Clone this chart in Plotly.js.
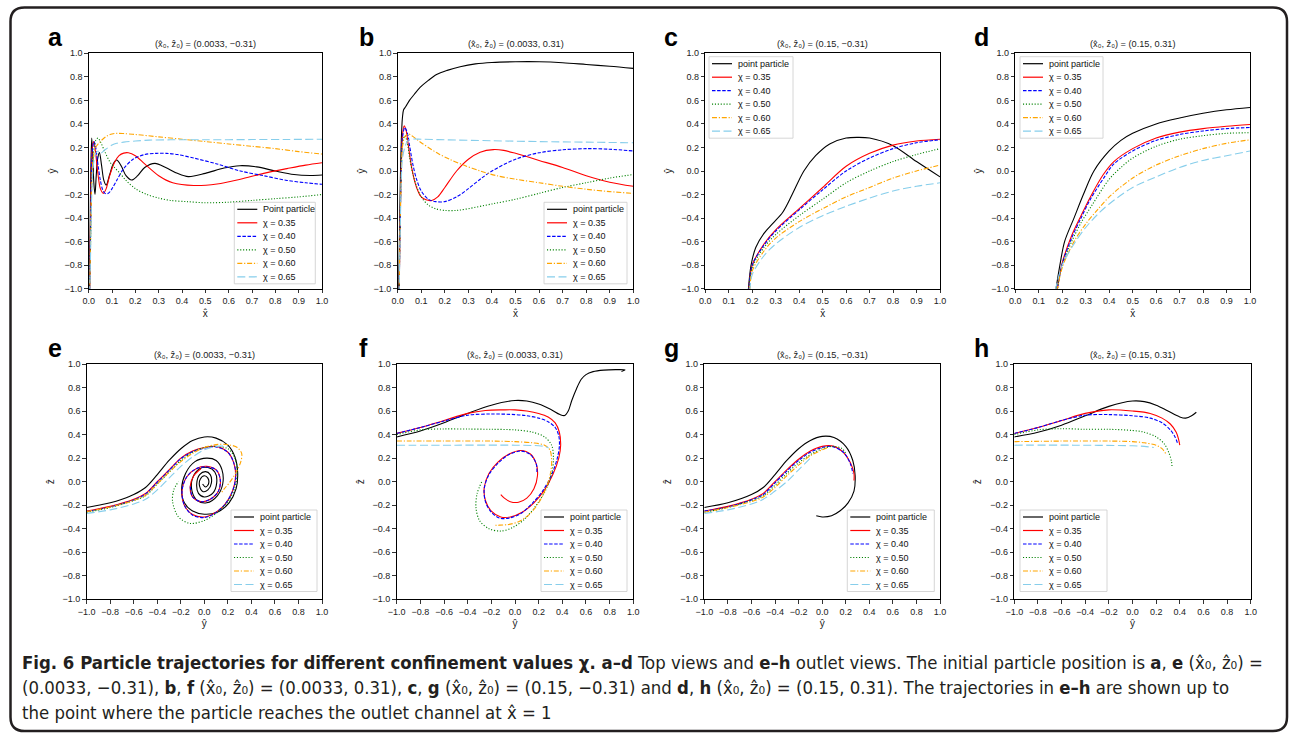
<!DOCTYPE html>
<html><head><meta charset="utf-8">
<script src="https://cdn.plot.ly/plotly-3.0.1.min.js"></script>
<style>html,body{margin:0;padding:0;background:#fff}#chart{width:1292px;height:736px}</style>
</head><body><div id="chart"></div>
<script>
// ---------------- DATA ----------------
const seriesLabels = ['point particle','χ = 0.35','χ = 0.40','χ = 0.50','χ = 0.60','χ = 0.65'];
const seriesLabelsA = ['Point particle','χ = 0.35','χ = 0.40','χ = 0.50','χ = 0.60','χ = 0.65'];
const panelLetters = ['a','b','c','d','e','f','g','h'];
const panelTitles = [
  '(x̂₀, ẑ₀) = (0.0033, −0.31)',
  '(x̂₀, ẑ₀) = (0.0033, 0.31)',
  '(x̂₀, ẑ₀) = (0.15, −0.31)',
  '(x̂₀, ẑ₀) = (0.15, 0.31)',
  '(x̂₀, ẑ₀) = (0.0033, −0.31)',
  '(x̂₀, ẑ₀) = (0.0033, 0.31)',
  '(x̂₀, ẑ₀) = (0.15, −0.31)',
  '(x̂₀, ẑ₀) = (0.15, 0.31)'
];
const topXLabel = 'x̂', topYLabel = 'ŷ', botXLabel = 'ŷ', botYLabel = 'ẑ';

// panel a (x̂, ŷ)
const aPPx = [0.003,0.006,0.009,0.013,0.018,0.022,0.027,0.032,0.038,0.046,0.055,0.065,0.075,0.09,0.105,0.12,0.14,0.16,0.184,0.21,0.24,0.284,0.33,0.38,0.427,0.5,0.58,0.648,0.72,0.8,0.88,0.95,1.0];
const aPPy = [-1.05,-0.5,0.0,0.28,0.1,-0.1,-0.2,-0.05,0.1,0.156,0.05,-0.08,-0.12,-0.03,0.06,0.093,0.04,-0.04,-0.077,-0.04,0.03,0.065,0.03,-0.02,-0.048,-0.02,0.025,0.045,0.035,0.0,-0.03,-0.038,-0.034];
const aC35x = [0.004,0.008,0.012,0.017,0.022,0.03,0.04,0.05,0.063,0.075,0.09,0.11,0.13,0.15,0.17,0.2,0.24,0.3,0.36,0.45,0.55,0.65,0.75,0.85,0.93,1.0];
const aC35y = [-1.05,-0.4,0.05,0.22,0.25,0.15,-0.03,-0.15,-0.19,-0.15,-0.04,0.07,0.13,0.152,0.155,0.13,0.06,-0.04,-0.1,-0.123,-0.11,-0.07,-0.02,0.02,0.05,0.07];
const aC40x = [0.004,0.008,0.012,0.017,0.023,0.03,0.04,0.05,0.06,0.07,0.084,0.1,0.12,0.15,0.19,0.24,0.29,0.334,0.38,0.45,0.55,0.65,0.75,0.85,0.93,1.0];
const aC40y = [-1.05,-0.5,0.0,0.2,0.25,0.2,0.05,-0.08,-0.16,-0.19,-0.19,-0.15,-0.08,0.02,0.1,0.14,0.15,0.15,0.14,0.11,0.06,0.0,-0.04,-0.08,-0.1,-0.113];
const aC50x = [0.004,0.008,0.013,0.02,0.03,0.04,0.05,0.07,0.09,0.11,0.13,0.16,0.2,0.25,0.3,0.35,0.42,0.5,0.6,0.7,0.8,0.9,1.0];
const aC50y = [-1.05,-0.6,-0.1,0.15,0.26,0.28,0.25,0.16,0.08,0.03,-0.01,-0.08,-0.15,-0.2,-0.23,-0.25,-0.26,-0.27,-0.265,-0.25,-0.235,-0.22,-0.2];
const aC60x = [0.004,0.008,0.013,0.02,0.03,0.045,0.06,0.08,0.1,0.12,0.15,0.2,0.3,0.4,0.5,0.6,0.7,0.8,0.9,1.0];
const aC60y = [-1.05,-0.6,-0.1,0.12,0.2,0.24,0.27,0.3,0.315,0.32,0.318,0.31,0.29,0.27,0.25,0.23,0.21,0.19,0.165,0.144];
const aC65x = [0.004,0.008,0.013,0.02,0.03,0.04,0.05,0.07,0.1,0.12,0.15,0.2,0.26,0.35,0.5,0.7,0.85,1.0];
const aC65y = [-1.05,-0.7,-0.2,0.05,0.15,0.17,0.15,0.18,0.22,0.235,0.245,0.255,0.262,0.265,0.265,0.267,0.268,0.27];

// panel b (x̂, ŷ)
const bPPx = [0.004,0.008,0.012,0.016,0.02,0.025,0.035,0.05,0.07,0.095,0.13,0.165,0.21,0.265,0.33,0.4,0.5,0.6,0.7,0.8,0.9,1.0];
const bPPy = [-1.05,-0.5,0.0,0.3,0.45,0.52,0.55,0.6,0.65,0.71,0.77,0.82,0.855,0.886,0.91,0.922,0.928,0.928,0.92,0.905,0.89,0.872];
const bC35x = [0.006,0.01,0.015,0.02,0.027,0.035,0.045,0.06,0.08,0.1,0.12,0.144,0.17,0.2,0.25,0.3,0.35,0.406,0.45,0.5,0.6,0.7,0.8,0.9,1.0];
const bC35y = [-1.05,-0.5,0.0,0.3,0.383,0.35,0.22,0.02,-0.14,-0.22,-0.245,-0.25,-0.22,-0.14,0.0,0.1,0.16,0.182,0.175,0.15,0.09,0.03,-0.04,-0.095,-0.13];
const bC40x = [0.006,0.01,0.015,0.02,0.03,0.04,0.05,0.065,0.08,0.1,0.13,0.16,0.2,0.25,0.3,0.35,0.4,0.5,0.6,0.7,0.8,0.9,1.0];
const bC40y = [-1.05,-0.5,0.0,0.28,0.37,0.33,0.22,0.05,-0.07,-0.17,-0.24,-0.26,-0.26,-0.22,-0.15,-0.07,0.0,0.1,0.155,0.18,0.19,0.185,0.17];
const bC50x = [0.006,0.01,0.015,0.02,0.03,0.04,0.05,0.065,0.08,0.1,0.13,0.16,0.2,0.25,0.3,0.4,0.5,0.6,0.7,0.8,0.9,1.0];
const bC50y = [-1.05,-0.5,0.0,0.22,0.3,0.25,0.12,-0.03,-0.13,-0.22,-0.29,-0.32,-0.335,-0.335,-0.32,-0.28,-0.24,-0.19,-0.14,-0.1,-0.06,-0.03];
const bC60x = [0.006,0.01,0.015,0.02,0.03,0.045,0.06,0.08,0.1,0.13,0.17,0.22,0.28,0.35,0.42,0.5,0.6,0.7,0.8,0.9,1.0];
const bC60y = [-1.05,-0.5,-0.05,0.2,0.29,0.315,0.3,0.27,0.24,0.2,0.15,0.1,0.05,0.0,-0.04,-0.07,-0.1,-0.13,-0.155,-0.175,-0.19];
const bC65x = [0.006,0.01,0.015,0.02,0.03,0.04,0.05,0.07,0.1,0.2,0.4,0.6,0.8,1.0];
const bC65y = [-1.05,-0.6,-0.1,0.1,0.2,0.25,0.27,0.272,0.27,0.265,0.257,0.25,0.245,0.24];

// panel c (x̂, ŷ)
const cPPx = [0.183,0.195,0.215,0.25,0.29,0.33,0.37,0.42,0.47,0.53,0.6,0.65,0.7,0.8,0.9,1.0];
const cPPy = [-1.02,-0.8,-0.65,-0.53,-0.44,-0.35,-0.2,0.0,0.13,0.23,0.28,0.286,0.28,0.215,0.08,-0.05];
const cC35x = [0.185,0.2,0.25,0.3,0.4,0.5,0.6,0.7,0.8,0.9,1.0];
const cC35y = [-1.02,-0.8,-0.62,-0.5,-0.32,-0.14,0.04,0.15,0.22,0.255,0.27];
const cC40x = [0.185,0.2,0.25,0.3,0.4,0.5,0.6,0.7,0.8,0.9,1.0];
const cC40y = [-1.02,-0.8,-0.63,-0.51,-0.33,-0.16,0.0,0.11,0.19,0.24,0.265];
const cC50x = [0.185,0.2,0.25,0.3,0.4,0.5,0.6,0.7,0.8,0.9,1.0];
const cC50y = [-1.02,-0.82,-0.65,-0.54,-0.38,-0.24,-0.1,0.0,0.08,0.14,0.19];
const cC60x = [0.19,0.2,0.25,0.3,0.4,0.5,0.6,0.7,0.8,0.9,1.0];
const cC60y = [-1.02,-0.85,-0.68,-0.57,-0.43,-0.32,-0.22,-0.14,-0.06,0.0,0.05];
const cC65x = [0.19,0.2,0.25,0.3,0.4,0.5,0.6,0.7,0.8,0.9,1.0];
const cC65y = [-1.02,-0.88,-0.72,-0.62,-0.48,-0.38,-0.3,-0.23,-0.17,-0.13,-0.1];

// panel d (x̂, ŷ)
const dPPx = [0.172,0.19,0.21,0.25,0.29,0.335,0.4,0.45,0.5,0.6,0.7,0.8,0.9,1.0];
const dPPy = [-1.02,-0.8,-0.6,-0.4,-0.2,0.0,0.17,0.26,0.32,0.4,0.45,0.49,0.52,0.54];
const dC35x = [0.178,0.2,0.24,0.28,0.32,0.375,0.42,0.5,0.6,0.7,0.8,0.9,1.0];
const dC35y = [-1.02,-0.78,-0.55,-0.38,-0.22,-0.03,0.08,0.19,0.28,0.33,0.36,0.38,0.395];
const dC40x = [0.178,0.2,0.24,0.28,0.32,0.38,0.42,0.5,0.6,0.7,0.8,0.9,1.0];
const dC40y = [-1.02,-0.79,-0.57,-0.4,-0.24,-0.05,0.06,0.17,0.26,0.31,0.34,0.36,0.37];
const dC50x = [0.178,0.2,0.24,0.28,0.33,0.4,0.45,0.5,0.6,0.7,0.8,0.9,1.0];
const dC50y = [-1.02,-0.8,-0.6,-0.44,-0.28,-0.07,0.03,0.11,0.21,0.27,0.3,0.32,0.325];
const dC60x = [0.178,0.2,0.25,0.3,0.35,0.4,0.5,0.6,0.7,0.8,0.9,1.0];
const dC60y = [-1.02,-0.82,-0.6,-0.45,-0.33,-0.22,-0.06,0.05,0.13,0.19,0.235,0.265];
const dC65x = [0.17,0.2,0.25,0.3,0.35,0.4,0.5,0.6,0.7,0.8,0.9,1.0];
const dC65y = [-1.02,-0.8,-0.62,-0.48,-0.37,-0.28,-0.14,-0.05,0.03,0.09,0.13,0.17];

// panel e (ŷ, ẑ)
const ePPx = [-1.0,-0.9,-0.8,-0.7,-0.6,-0.5,-0.4,-0.3,-0.2,-0.1,0.0,0.1,0.2,0.26,0.283,0.27,0.21,0.11,0.0,-0.1,-0.17,-0.193,-0.16,-0.08,0.02,0.1,0.15,0.156,0.11,0.02,-0.06,-0.105,-0.1,-0.04,0.03,0.09,0.105,0.07,0.0,-0.05,-0.065,-0.04,0.01,0.05,0.06,0.03,-0.01,-0.04,-0.035,0.0,0.03,0.035,0.01,-0.015];
const ePPy = [-0.22,-0.2,-0.18,-0.15,-0.11,-0.05,0.06,0.18,0.28,0.35,0.38,0.37,0.31,0.21,0.08,-0.06,-0.18,-0.26,-0.277,-0.25,-0.18,-0.06,0.07,0.17,0.2,0.18,0.1,-0.02,-0.12,-0.18,-0.16,-0.08,0.03,0.11,0.12,0.08,-0.01,-0.1,-0.13,-0.1,-0.02,0.06,0.085,0.06,-0.01,-0.07,-0.085,-0.04,0.02,0.05,0.03,-0.02,-0.045,-0.02];
const eC35x = [-1.0,-0.8,-0.6,-0.5,-0.4,-0.3,-0.2,-0.1,0.0,0.1,0.2,0.25,0.266,0.24,0.17,0.08,0.0,-0.1,-0.17,-0.19,-0.15,-0.07,0.02,0.1,0.135,0.12,0.05,-0.03,-0.1,-0.12,-0.09,-0.03];
const eC35y = [-0.25,-0.21,-0.15,-0.1,0.0,0.1,0.2,0.26,0.29,0.3,0.25,0.16,0.05,-0.08,-0.2,-0.27,-0.3,-0.28,-0.2,-0.08,0.04,0.11,0.13,0.1,0.02,-0.08,-0.15,-0.17,-0.13,-0.04,0.05,0.11];
const eC40x = [-1.0,-0.8,-0.6,-0.5,-0.4,-0.3,-0.2,-0.1,0.0,0.1,0.2,0.25,0.268,0.24,0.17,0.08,0.0,-0.1,-0.17,-0.19,-0.15,-0.07,0.02,0.1,0.135,0.12,0.05,-0.03,-0.1,-0.12];
const eC40y = [-0.255,-0.215,-0.155,-0.105,-0.005,0.095,0.195,0.255,0.285,0.295,0.25,0.16,0.05,-0.08,-0.2,-0.275,-0.305,-0.285,-0.2,-0.08,0.04,0.11,0.125,0.1,0.02,-0.08,-0.15,-0.17,-0.13,-0.04];
const eC50x = [-1.0,-0.8,-0.6,-0.5,-0.4,-0.3,-0.2,-0.1,0.0,0.1,0.2,0.26,0.28,0.26,0.2,0.1,0.0,-0.12,-0.22,-0.27,-0.26,-0.22];
const eC50y = [-0.26,-0.22,-0.16,-0.12,-0.02,0.08,0.18,0.25,0.29,0.3,0.28,0.2,0.08,-0.05,-0.17,-0.27,-0.33,-0.355,-0.3,-0.17,-0.07,0.0];
const eC60x = [-1.0,-0.8,-0.6,-0.5,-0.4,-0.3,-0.2,-0.1,0.0,0.1,0.2,0.28,0.317,0.31,0.27,0.22,0.17,0.14];
const eC60y = [-0.255,-0.215,-0.16,-0.115,-0.02,0.08,0.17,0.24,0.29,0.315,0.315,0.29,0.24,0.17,0.08,0.0,-0.06,-0.1];
const eC65x = [-1.0,-0.8,-0.6,-0.5,-0.4,-0.3,-0.2,-0.1,0.0,0.1,0.2];
const eC65y = [-0.27,-0.24,-0.19,-0.15,-0.07,0.03,0.13,0.21,0.27,0.3,0.3];

// panel f (ŷ, ẑ)
const fPPx = [-1.0,-0.8,-0.6,-0.4,-0.2,0.0,0.1,0.2,0.3,0.38,0.42,0.45,0.48,0.52,0.56,0.6,0.66,0.75,0.85,0.93,0.9];
const fPPy = [0.38,0.43,0.5,0.58,0.65,0.69,0.685,0.66,0.615,0.57,0.562,0.6,0.69,0.79,0.87,0.91,0.935,0.948,0.952,0.95,0.937];
const fC35x = [-1.0,-0.8,-0.6,-0.4,-0.25,-0.1,0.0,0.1,0.2,0.28,0.34,0.375,0.386,0.37,0.32,0.25,0.16,0.06,-0.04,-0.12,-0.2,-0.25,-0.26,-0.22,-0.14,-0.05,0.05,0.13,0.18,0.19,0.16,0.1,0.03,-0.04,-0.09,-0.12];
const fC35y = [0.41,0.46,0.52,0.58,0.605,0.61,0.61,0.6,0.58,0.55,0.5,0.42,0.31,0.2,0.06,-0.07,-0.18,-0.26,-0.3,-0.3,-0.25,-0.16,-0.05,0.07,0.17,0.235,0.265,0.235,0.15,0.05,-0.06,-0.14,-0.175,-0.17,-0.14,-0.11];
const fC40x = [-1.0,-0.8,-0.6,-0.4,-0.2,0.0,0.1,0.2,0.28,0.34,0.37,0.375,0.355,0.31,0.24,0.15,0.05,-0.05,-0.13,-0.2,-0.25,-0.26,-0.22,-0.14,-0.05,0.05,0.13,0.18,0.185];
const fC40y = [0.41,0.46,0.515,0.565,0.575,0.57,0.56,0.54,0.51,0.46,0.39,0.3,0.19,0.06,-0.07,-0.18,-0.27,-0.31,-0.31,-0.26,-0.17,-0.06,0.06,0.16,0.23,0.26,0.23,0.15,0.07];
const fC50x = [-1.0,-0.8,-0.6,-0.4,-0.2,0.0,0.15,0.25,0.31,0.325,0.31,0.26,0.18,0.08,-0.02,-0.12,-0.22,-0.3,-0.33,-0.32,-0.28];
const fC50y = [0.4,0.44,0.448,0.447,0.445,0.44,0.42,0.38,0.31,0.2,0.07,-0.07,-0.2,-0.32,-0.39,-0.42,-0.4,-0.33,-0.22,-0.1,0.0];
const fC60x = [-1.0,-0.6,-0.2,0.0,0.15,0.25,0.295,0.31,0.3,0.26,0.2,0.12,0.03,-0.06,-0.14,-0.18];
const fC60y = [0.345,0.345,0.345,0.34,0.33,0.31,0.27,0.18,0.07,-0.06,-0.18,-0.28,-0.34,-0.365,-0.37,-0.37];
const fC65x = [-1.0,-0.5,0.0,0.2,0.26,0.285];
const fC65y = [0.31,0.31,0.31,0.305,0.297,0.285];

// panel g (ŷ, ẑ)
const gPPx = [-1.0,-0.8,-0.6,-0.5,-0.4,-0.3,-0.2,-0.1,0.0,0.1,0.2,0.26,0.28,0.27,0.22,0.15,0.08,0.0,-0.05];
const gPPy = [-0.22,-0.18,-0.11,-0.05,0.06,0.18,0.28,0.35,0.385,0.375,0.3,0.18,0.05,-0.08,-0.18,-0.25,-0.29,-0.3,-0.29];
const gC35x = [-1.0,-0.8,-0.6,-0.5,-0.4,-0.3,-0.2,-0.1,0.0,0.1,0.18,0.24,0.27,0.27];
const gC35y = [-0.25,-0.21,-0.15,-0.1,0.0,0.1,0.19,0.26,0.3,0.3,0.25,0.16,0.07,0.01];
const gC40x = [-1.0,-0.8,-0.6,-0.5,-0.4,-0.3,-0.2,-0.1,0.0,0.08,0.18,0.24,0.26];
const gC40y = [-0.25,-0.215,-0.155,-0.11,-0.01,0.09,0.18,0.25,0.29,0.3,0.25,0.15,0.07];
const gC50x = [-1.0,-0.8,-0.6,-0.5,-0.4,-0.3,-0.2,-0.1,0.0,0.1,0.17,0.2];
const gC50y = [-0.26,-0.22,-0.16,-0.12,-0.03,0.07,0.16,0.23,0.28,0.3,0.28,0.24];
const gC60x = [-1.0,-0.8,-0.6,-0.5,-0.4,-0.3,-0.2,-0.1,0.0,0.05];
const gC60y = [-0.26,-0.22,-0.17,-0.13,-0.05,0.05,0.14,0.22,0.27,0.29];
const gC65x = [-1.0,-0.8,-0.6,-0.5,-0.4,-0.3,-0.2,-0.1];
const gC65y = [-0.27,-0.24,-0.19,-0.15,-0.08,0.0,0.1,0.2];

// panel h (ŷ, ẑ)
const hPPx = [-1.0,-0.8,-0.6,-0.4,-0.2,0.0,0.1,0.2,0.3,0.4,0.45,0.5,0.54];
const hPPy = [0.38,0.42,0.48,0.56,0.64,0.685,0.68,0.65,0.6,0.55,0.54,0.56,0.59];
const hC35x = [-1.0,-0.8,-0.6,-0.4,-0.2,0.0,0.15,0.25,0.32,0.37,0.39,0.4];
const hC35y = [0.41,0.46,0.52,0.58,0.61,0.6,0.58,0.54,0.49,0.42,0.36,0.31];
const hC40x = [-1.0,-0.8,-0.6,-0.4,-0.2,0.0,0.15,0.25,0.32,0.36,0.38];
const hC40y = [0.41,0.46,0.52,0.565,0.57,0.56,0.54,0.5,0.44,0.38,0.33];
const hC50x = [-1.0,-0.8,-0.6,-0.4,-0.2,0.0,0.1,0.2,0.27,0.31,0.33,0.335];
const hC50y = [0.4,0.44,0.45,0.445,0.445,0.435,0.42,0.38,0.32,0.24,0.17,0.12];
const hC60x = [-1.0,-0.6,-0.2,0.0,0.1,0.2,0.25,0.28];
const hC60y = [0.34,0.345,0.345,0.34,0.33,0.31,0.28,0.24];
const hC65x = [-1.0,-0.5,0.0,0.1,0.18];
const hC65y = [0.31,0.31,0.305,0.3,0.29];

const panelSeries = [
  [[aPPx,aPPy],[aC35x,aC35y],[aC40x,aC40y],[aC50x,aC50y],[aC60x,aC60y],[aC65x,aC65y]],
  [[bPPx,bPPy],[bC35x,bC35y],[bC40x,bC40y],[bC50x,bC50y],[bC60x,bC60y],[bC65x,bC65y]],
  [[cPPx,cPPy],[cC35x,cC35y],[cC40x,cC40y],[cC50x,cC50y],[cC60x,cC60y],[cC65x,cC65y]],
  [[dPPx,dPPy],[dC35x,dC35y],[dC40x,dC40y],[dC50x,dC50y],[dC60x,dC60y],[dC65x,dC65y]],
  [[ePPx,ePPy],[eC35x,eC35y],[eC40x,eC40y],[eC50x,eC50y],[eC60x,eC60y],[eC65x,eC65y]],
  [[fPPx,fPPy],[fC35x,fC35y],[fC40x,fC40y],[fC50x,fC50y],[fC60x,fC60y],[fC65x,fC65y]],
  [[gPPx,gPPy],[gC35x,gC35y],[gC40x,gC40y],[gC50x,gC50y],[gC60x,gC60y],[gC65x,gC65y]],
  [[hPPx,hPPy],[hC35x,hC35y],[hC40x,hC40y],[hC50x,hC50y],[hC60x,hC60y],[hC65x,hC65y]]
];

// ---------------- STYLE / LAYOUT ----------------
const W = 1292, H = 736;
const FONT = 'Liberation Sans, Arial, Helvetica, sans-serif';
const STY = [
  {color:'#000000', dash:'solid', width:1.1},
  {color:'#ff0000', dash:'solid', width:1.1},
  {color:'#0000ff', dash:'3.5px,1.6px', width:1.1},
  {color:'#008000', dash:'1.1px,1.8px', width:1.1},
  {color:'#ffa500', dash:'5px,1.8px,1.2px,1.8px', width:1.1},
  {color:'#87ceeb', dash:'8px,3.5px', width:1.1}
];
// plot boxes in px: [left, right, top, bottom]
const BOX = [
  [88.7,322,53.3,288.7],[397.7,633.3,53.3,288.7],[705.3,940,53.3,288.7],[1015.3,1250,53.3,288.7],
  [86.7,322,364,599.3],[396.7,633.3,364,599.3],[704.3,940,364,599.3],[1014.3,1250.7,364,599.3]
];
// legend boxes [left, top, width]
const LEG = [
  [234.3,202.3,81],[544,202.3,83],[709,56.7,84],[1020,56.7,83],
  [231,510,86],[541,510,86],[847.3,510,87],[1020,510,87]
];
const LETTERX = [46,357.5,662,972,46,357,662,972];

const PX = v => v / W, PY = v => 1 - v / H;

const traces = [];
const layout = {
  width: W, height: H, margin: {l:0,r:0,t:0,b:0},
  paper_bgcolor:'#fff', plot_bgcolor:'#fff', showlegend:false,
  font:{family:FONT, color:'#222'},
  shapes:[], annotations:[]
};

for (let p = 0; p < 8; p++) {
  const k = p + 1, sfx = k === 1 ? '' : String(k);
  const top = p < 4;
  const [l, r, t, b] = BOX[p];
  const labels = p === 0 ? seriesLabelsA : seriesLabels;
  panelSeries[p].forEach((s, i) => {
    traces.push({
      type:'scatter', mode:'lines', x:s[0], y:s[1], name:labels[i],
      xaxis:'x'+sfx, yaxis:'y'+sfx, showlegend:false,
      line:{color:STY[i].color, dash:STY[i].dash, width:STY[i].width, shape:'spline', smoothing:0.9},
      hoverinfo:'skip'
    });
  });
  const common = {
    ticks:'outside', ticklen:3.5, tickwidth:0.8, tickcolor:'#000',
    showline:true, linecolor:'#000', linewidth:1, mirror:true,
    showgrid:false, zeroline:false, tickformat:'.1f',
    tickfont:{family:FONT, size:9, color:'#222'}, fixedrange:true
  };
  layout['xaxis'+sfx] = Object.assign({}, common, {
    domain:[PX(l), PX(r)], anchor:'y'+sfx,
    range: top ? [0,1] : [-1,1], tick0: top ? 0 : -1, dtick: top ? 0.1 : 0.2,
    title:{text: top ? topXLabel : botXLabel, font:{family:FONT,size:10,color:'#222'}, standoff:4}
  });
  layout['yaxis'+sfx] = Object.assign({}, common, {
    domain:[PY(b), PY(t)], anchor:'x'+sfx,
    range:[-1,1], tick0:-1, dtick:0.2,
    title:{text: top ? topYLabel : botYLabel, font:{family:FONT,size:10,color:'#222'}, standoff:6}
  });
  // subplot title
  layout.annotations.push({
    xref:'paper', yref:'paper', x:PX((l+r)/2), y:PY(t-9), xanchor:'center', yanchor:'middle',
    text:panelTitles[p], showarrow:false, font:{family:FONT, size:9.2, color:'#222'}
  });
  // panel letter
  layout.annotations.push({
    xref:'paper', yref:'paper', x:PX(LETTERX[p]), y:PY(t-16), xanchor:'left', yanchor:'middle',
    text:'<b>'+panelLetters[p]+'</b>', showarrow:false, font:{family:FONT, size:25, color:'#000'}
  });
  // legend drawn as a framed key
  const [lx, ly, lw] = LEG[p];
  const rowH = 13.5, lh = 6*rowH + 0.5;
  layout.shapes.push({type:'rect', xref:'paper', yref:'paper', x0:PX(lx), x1:PX(lx+lw), y0:PY(ly+lh), y1:PY(ly),
    fillcolor:'rgba(255,255,255,0.9)', line:{color:'#cccccc', width:0.8}, layer:'above'});
  for (let i = 0; i < 6; i++) {
    const yy = ly + 7 + i*rowH;
    layout.shapes.push({type:'line', xref:'paper', yref:'paper', x0:PX(lx+3), x1:PX(lx+23), y0:PY(yy), y1:PY(yy),
      line:{color:STY[i].color, dash:STY[i].dash, width:1.2}, layer:'above'});
    layout.annotations.push({xref:'paper', yref:'paper', x:PX(lx+27), y:PY(yy), xanchor:'left', yanchor:'middle',
      text:labels[i], showarrow:false, font:{family:FONT, size:9, color:'#111'}});
  }
}

// rounded outer frame
function roundRect(x0,y0,x1,y1,r){
  const X = v => PX(v).toFixed(5), Y = v => PY(v).toFixed(5);
  return `M${X(x0+r)},${Y(y0)} L${X(x1-r)},${Y(y0)} Q${X(x1)},${Y(y0)} ${X(x1)},${Y(y0+r)} `+
         `L${X(x1)},${Y(y1-r)} Q${X(x1)},${Y(y1)} ${X(x1-r)},${Y(y1)} L${X(x0+r)},${Y(y1)} `+
         `Q${X(x0)},${Y(y1)} ${X(x0)},${Y(y1-r)} L${X(x0)},${Y(y0+r)} Q${X(x0)},${Y(y0)} ${X(x0+r)},${Y(y0)} Z`;
}
layout.shapes.push({type:'path', xref:'paper', yref:'paper', path:roundRect(10.5,7.5,1287,731,14),
  line:{color:'#231f20', width:2.5}, layer:'below'});

// caption
const CAPFONT = 'Liberation Sans Narrow, DejaVu Sans Condensed, Roboto Condensed, sans-serif';
const capLines = [
  '<b>Fig. 6 Particle trajectories for different confinement values χ. a–d</b> Top views and <b>e–h</b> outlet views. The initial particle position is <b>a</b>, <b>e</b> (x̂₀, ẑ₀) =',
  '(0.0033, −0.31), <b>b</b>, <b>f</b> (x̂₀, ẑ₀) = (0.0033, 0.31), <b>c</b>, <b>g</b> (x̂₀, ẑ₀) = (0.15, −0.31) and <b>d</b>, <b>h</b> (x̂₀, ẑ₀) = (0.15, 0.31). The trajectories in <b>e–h</b> are shown up to',
  'the point where the particle reaches the outlet channel at x̂ = 1'
];
const capY = [662, 687, 712];
capLines.forEach((t, i) => layout.annotations.push({
  xref:'paper', yref:'paper', x:PX(20), y:PY(capY[i]), xanchor:'left', yanchor:'middle',
  text:t, showarrow:false, font:{family:CAPFONT, size:18.4, color:'#231f20'}
}));

Plotly.newPlot('chart', traces, layout, {staticPlot:true, displayModeBar:false});
</script>
</body></html>
